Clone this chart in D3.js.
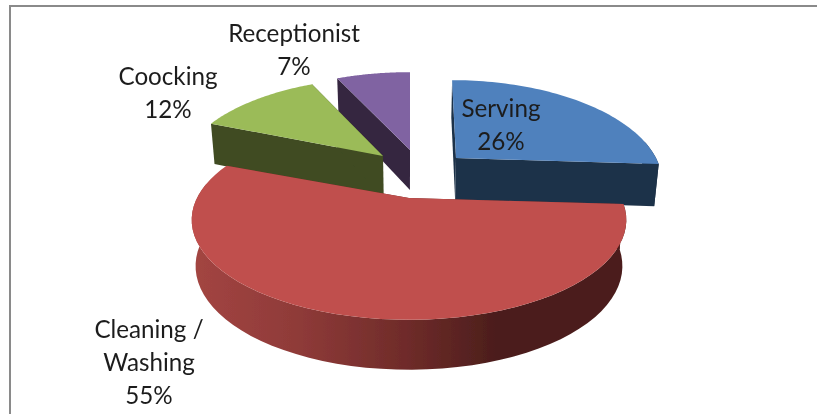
<!DOCTYPE html>
<html><head><meta charset="utf-8">
<script src="https://cdn.jsdelivr.net/npm/d3@7/dist/d3.min.js"></script>
<style>html,body{margin:0;padding:0;background:#fff}svg{display:block}text{font-family:Lato,"Open Sans",sans-serif;font-size:24.2px;fill:#1c1c1c;text-anchor:middle}</style>
</head><body><svg id="c" width="817" height="414"></svg>
<script>
const categories = ["Serving","Cleaning / Washing","Coocking","Receptionist"];
const values = [26,55,12,7];
const labelLines = [["Serving","26%"],["Cleaning /","Washing","55%"],["Coocking","12%"],["Receptionist","7%"]];
const faceColors = ["#4f81bd","#c0504d","#9bbb59","#8064a2"];
const sideColors = ["#1f3349","#6b2624","#3f4b22","#35263f"];
// layout of each exploded slice: apex, horizontal radius, extrusion, lean
const apexX = [456,409,383,410], apexY = [158,198,156,150], radX = [200,212,200,205], depth = [42,45,42,40], shear = [0.05,0,0,0];
const labelX = [501,149,168,294], labelY = [117,338,85,42];
const K = 95, P = 0.22;
const svg = d3.select("#c");
const defs = svg.append("defs");
defs.append("filter").attr("id","soft").append("feGaussianBlur").attr("stdDeviation",0.6);
defs.append("filter").attr("id","softText").append("feGaussianBlur").attr("stdDeviation",0.45);
const grad = defs.append("linearGradient").attr("id","redSide").attr("gradientUnits","userSpaceOnUse")
  .attr("x1",193).attr("x2",625).attr("y1",0).attr("y2",0);
[[0,"#a34542"],[0.25,"#8e3a38"],[0.5,"#6e2b29"],[0.7,"#4c1e1c"],[1,"#4c1e1c"]].forEach(s=>grad.append("stop").attr("offset",s[0]).attr("stop-color",s[1]));
svg.append("path").attr("d","M10,414V6H817").attr("fill","none").attr("stroke","#8a8a8a").attr("stroke-width",2);
const arcs = d3.pie().sort(null).startAngle(0).endAngle(2*Math.PI)(values);
const top3 = (i,a,r=1)=>{const u=Math.sin(a)*r,v=Math.cos(a)*r,s=1+P*v,y=-K*v/s;return [apexX[i]+radX[i]*u/s+shear[i]*y, apexY[i]+y, v];};
const base = (i,p)=>[408+(p[0]-408)*0.982, p[1]+depth[i]*(1-0.11*p[2])];
const line = d3.line();
const g = svg.append("g").attr("filter","url(#soft)");
const samples = (a,b,n=60)=>d3.range(n+1).map(k=>a+(b-a)*k/n);
function drawSlice(i){
  const d=arcs[i], apex=top3(i,0,0);
  const rim=samples(d.startAngle,d.endAngle).map(a=>top3(i,a));
  [[apex,rim[0]],[apex,rim[rim.length-1]]].forEach(w=>{
    const pts=[w[0],w[1],base(i,w[1]),base(i,w[0])];
    g.append("path").attr("d",line(pts.map(p=>[p[0],p[1]]))+"Z").attr("fill",sideColors[i]);
  });
  const front=rim.filter(p=>p[2]<0.2);
  if(front.length){
    const pts=front.concat(front.slice().reverse().map(p=>base(i,p)));
    g.append("path").attr("d",line(pts.map(p=>[p[0],p[1]]))+"Z").attr("fill",i===1?"url(#redSide)":sideColors[i]);
  }
  g.append("path").attr("d",line([apex].concat(rim).map(p=>[p[0],p[1]]))+"Z").attr("fill",faceColors[i]);
}
[3,2,0,1].forEach(drawSlice);
const lineGap=33;
const tg=svg.append("g").attr("filter","url(#softText)");
labelLines.forEach((ls,i)=>{
  ls.forEach((t,j)=>tg.append("text").attr("x",labelX[i]).attr("y",labelY[i]+j*lineGap).text(t));
});
</script></body></html>
